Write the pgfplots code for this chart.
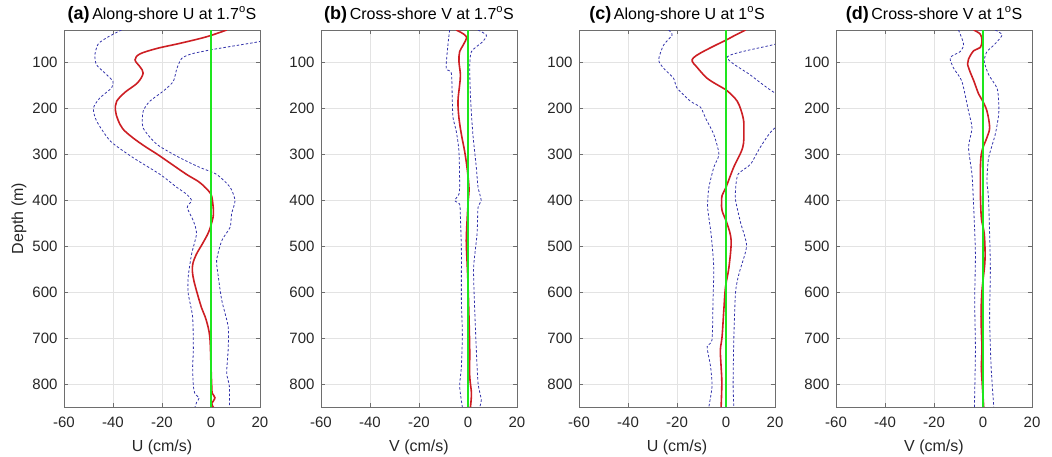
\documentclass[border=0pt]{standalone}
\usepackage{pgfplots}
\pgfplotsset{compat=1.18}
\usepackage{fontspec}
\setmainfont{Liberation Sans}
\definecolor{mred}{RGB}{205,30,35}
\definecolor{mblue}{RGB}{50,50,170}
\definecolor{mgreen}{RGB}{30,230,30}
\definecolor{axgray}{RGB}{110,110,110}
\definecolor{txt}{RGB}{38,38,38}
\pgfplotsset{
 panel/.style={
  scale only axis, width=196pt, height=377pt, anchor=south west,
  xmin=-60,xmax=20, ymin=30,ymax=850, y dir=reverse,
  xtick={-60,-40,-20,0,20}, ytick={100,200,...,800},
  grid=major, major grid style={gray!22, line width=0.5pt},
  axis line style={axgray, line width=0.8pt},
  tick style={axgray, line width=0.6pt}, major tick length=4pt,
  tick align=inside, xtick pos=both, ytick pos=both,
  xticklabel pos=lower, yticklabel pos=left,
  /pgf/number format/assume math mode=true,
  ticklabel style={font=\fontsize{15}{18}\selectfont, text=txt},
  xticklabel style={yshift=-6pt}, yticklabel style={xshift=-3pt},
  label style={font=\fontsize{16}{19}\selectfont, text=txt},
  xlabel style={at={(axis description cs:0.5,-0.108)}, anchor=center},
  ylabel style={at={(axis description cs:-0.23,0.5)}, anchor=center, rotate=0},
  title style={at={(axis description cs:0.5,1)}, anchor=base, yshift=5pt, font=\fontsize{16}{19}\selectfont, text=black},
 },
 mean/.style={mred, line width=1.6pt, smooth, tension=0.55},
 ci/.style={mblue, line width=0.8pt, dash pattern=on 2.5pt off 2pt, smooth, tension=0.4},
 zero/.style={mgreen, line width=1.3pt},
}
\newcommand{\ttl}[2]{{\fontsize{18}{20}\selectfont\bfseries(#1)}\,#2}
\begin{document}
\begin{tikzpicture}
\useasboundingbox (0,0) rectangle (1052pt,456pt);
% ---------- (a)
\begin{axis}[panel, at={(64pt,49pt)}, title={\ttl{a}{Along-shore U at 1.7\textsuperscript{o}S}}, xlabel={U (cm/s)}, ylabel={Depth (m)}]
\addplot[ci] coordinates {(-36.5,30) (-42,45) (-46,60) (-47.4,84) (-46.7,106) (-42.6,127) (-40,142) (-40.6,156) (-45.4,178) (-48,200) (-46.7,228) (-41,272) (-31.7,308) (-20.8,344) (-14,372) (-10,387) (-7.9,401) (-9.7,416) (-7.2,445) (-5.9,473) (-7.9,517) (-9.3,567) (-9.3,603) (-7.5,654) (-7.2,726) (-7.5,762) (-7.2,805) (-6.5,822) (-4.8,830) (-5.9,840) (-6.5,850)};
\addplot[ci] coordinates {(44,30) (20,55) (10,64) (0,73) (-8,82) (-12,92) (-14,115) (-15.4,142) (-19.5,163) (-25,185) (-27.7,207) (-27.7,243) (-22,279) (-12.7,308) (-4.5,329) (2.3,344) (7.8,372) (9.8,401) (8.4,430) (7.8,459) (4.4,488) (2.3,531) (3,567) (4.4,618) (7,675) (7,726) (6.4,776) (7.5,805) (7.5,850)};
\addplot[mean] coordinates {(6.4,30) (-2,45) (-12.7,59) (-22,70) (-29,82) (-31,95) (-29,110) (-27.7,124) (-30,145) (-35,165) (-38.5,185) (-39,205) (-38,225) (-36,245) (-32,264) (-27,283) (-22,300) (-16,322) (-10,344) (-5,360) (-2.5,372) (0,387) (0.8,410) (1,430) (0.5,445) (-1,470) (-3.5,495) (-6,518) (-7.4,538) (-7.6,555) (-7,575) (-5.5,605) (-3.8,635) (-2,660) (-0.5,697) (0,762) (0.3,805) (0.5,820) (1.6,830) (0.3,843) (1,850)};
\addplot[zero] coordinates {(0,30) (0,850)};
\end{axis}
% ---------- (b)
\begin{axis}[panel, at={(321pt,49pt)}, title={\ttl{b}{Cross-shore V at 1.7\textsuperscript{o}S}}, xlabel={V (cm/s)}]
\addplot[ci] coordinates {(-7.5,30) (-8.2,63) (-8.9,113) (-6.8,124) (-6.4,185) (-6.1,221) (-4.8,250) (-3.7,293) (-3.4,365) (-3.7,387) (-5.4,401) (-3.4,409) (-3.1,437) (-2.7,509) (-2.7,618) (-2.3,690) (-2.7,762) (-3.4,805) (-2.3,850)};
\addplot[ci] coordinates {(4.1,30) (7.5,41) (6.1,55) (1.4,77) (0.7,113) (1.1,185) (2,257) (3.4,329) (4.1,372) (5.4,401) (4.1,416) (3.7,473) (2.3,546) (2.6,618) (3.4,726) (4.1,798) (5.4,834) (4.8,850)};
\addplot[mean] coordinates {(-4.8,30) (-0.7,44) (-2,63) (-3.4,77) (-3.7,98) (-3.1,127) (-3.4,149) (-4.1,185) (-3.7,221) (-2.7,257) (-1.4,293) (-0.4,329) (0.4,373) (0.1,401) (-0.3,437) (-0.7,488) (-0.4,531) (0,582) (0.4,654) (0.7,726) (0.7,783) (1.4,820) (1,850)};
\addplot[zero] coordinates {(0,30) (0,850)};
\end{axis}
% ---------- (c)
\begin{axis}[panel, at={(579pt,49pt)}, title={\ttl{c}{Along-shore U at 1\textsuperscript{o}S}}, xlabel={U (cm/s)}]
\addplot[ci] coordinates {(-23.4,30) (-22,41) (-25.5,63) (-27.5,95) (-25.5,113) (-21.4,135) (-20,156) (-14.5,185) (-10.4,198) (-8.4,221) (-5,257) (-2.9,300) (-5,329) (-7,373) (-7.5,416) (-6.1,473) (-5,546) (-5.3,618) (-5.7,704) (-7.7,719) (-6.3,762) (-5.7,805) (-7,850)};
\addplot[ci] coordinates {(42,30) (20,61) (0.6,88) (10,128) (20,167) (35,205) (20,243) (14,285) (10,322) (5,343) (4,370) (3.9,400) (6,450) (8.4,500) (5.3,560) (3.9,600) (3.2,700) (2.9,800) (3.2,850)};
\addplot[mean] coordinates {(8,30) (3.5,42) (0,52) (-5,65) (-10.4,80) (-13.2,90) (-13.8,98) (-12,110) (-7.7,135) (-2.3,153) (0,160) (4.6,185) (7,221) (7.3,250) (6.8,286) (3.1,329) (0,372) (-1.6,390) (-1.8,405) (-1.6,423) (0.5,452) (2.1,488) (1.2,546) (-0.2,589) (-0.9,640) (-1.6,697) (-2.3,726) (-2,762) (-1.7,798) (-2,850)};
\addplot[zero] coordinates {(0,30) (0,850)};
\end{axis}
% ---------- (d)
\begin{axis}[panel, at={(836pt,49pt)}, title={\ttl{d}{Cross-shore V at 1\textsuperscript{o}S}}, xlabel={V (cm/s)}]
\addplot[ci] coordinates {(-10,30) (-8.5,50) (-7.9,63) (-9.3,77) (-13.4,90) (-12,113) (-8.6,142) (-5.9,207) (-4.5,243) (-5.9,286) (-4.5,344) (-3.8,416) (-3.1,517) (-3.4,618) (-3.1,726) (-3.5,850)};
\addplot[ci] coordinates {(5,30) (7.8,41) (4.4,63) (1.6,77) (0.5,98) (2.3,127) (5.7,156) (6.4,185) (6.4,214) (5,257) (2.3,308) (1.6,358) (2.3,401) (3,546) (2.7,654) (3.3,762) (4.4,850)};
\addplot[mean] coordinates {(-3.8,30) (-1.1,39) (-0.4,53) (-1.1,68) (-3.8,75) (-5.9,93) (-6.3,104) (-5.2,122) (-3.8,140) (-1.8,169) (-0.4,182) (1.6,206) (2.7,242) (1.6,264) (-0.7,300) (-1.1,365) (-0.7,437) (0.5,473) (0.8,531) (-0.4,596) (-0.8,654) (-0.4,726) (-0.7,762) (0.3,850)};
\addplot[zero] coordinates {(0,30) (0,850)};
\end{axis}
\end{tikzpicture}
\end{document}
